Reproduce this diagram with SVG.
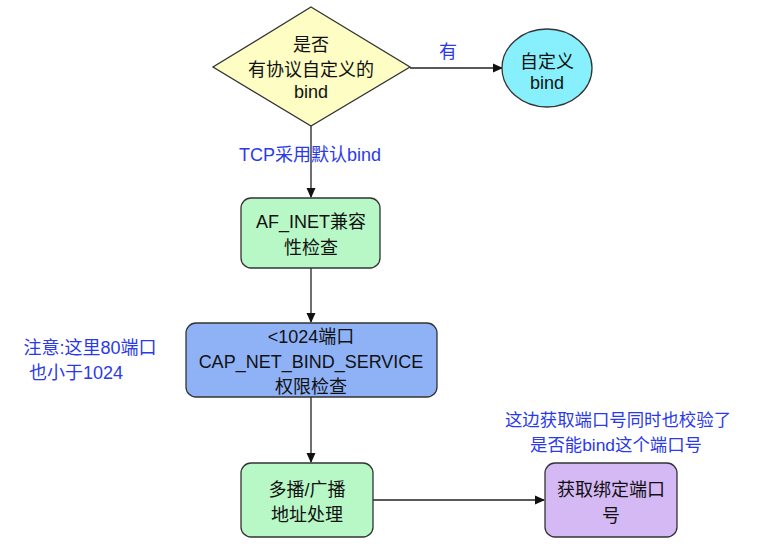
<svg xmlns="http://www.w3.org/2000/svg" width="779" height="550" viewBox="0 0 779 550">
<defs>
<marker id="arr" markerWidth="10" markerHeight="10" refX="9" refY="5" orient="auto" markerUnits="userSpaceOnUse">
<path d="M0,0.5 L10,5 L0,9.5 Z" fill="#111"/>
</marker>
<style>
.n{stroke:#333;stroke-width:1.3}
.t{font-family:"Liberation Sans","Noto Sans CJK SC",sans-serif;font-size:18px;fill:#111;text-anchor:middle}
.l{font-family:"Liberation Sans","Noto Sans CJK SC",sans-serif;font-size:18px;fill:#2b3ae8;text-anchor:middle}
.s{font-size:17.4px}
.e{stroke:#222;stroke-width:1.3;fill:none;marker-end:url(#arr)}
</style>
</defs>
<rect width="779" height="550" fill="#fff"/>
<g id="connectors">
<path class="e" d="M410,68 L502,68"/>
<path class="e" d="M311,126 L311,197"/>
<path class="e" d="M311,268 L311,322"/>
<path class="e" d="M311,397 L311,462"/>
<path class="e" d="M373,500 L544,500"/>
</g>
<g id="labels">
<text class="l" x="448" y="58">有</text>
<text class="l" x="310" y="161">TCP采用默认bind</text>
<text class="l" x="90" y="354">注意:这里80端口</text>
<text class="l" x="76" y="379">也小于1024</text>
<text class="l s" x="618" y="426">这边获取端口号同时也校验了</text>
<text class="l s" x="616" y="451">是否能bind这个端口号</text>
</g>
<g id="decision">
<polygon class="n" points="311,7 410,67 311,126 213,67" fill="#fdfdc4"/>
<text class="t" x="311" y="51">是否</text>
<text class="t" x="311" y="76">有协议自定义的</text>
<text class="t" x="311" y="98">bind</text>
</g>
<g id="custom">
<ellipse class="n" cx="547" cy="68" rx="45" ry="39" fill="#88f0fc"/>
<text class="t" x="547" y="68">自定义</text>
<text class="t" x="547" y="89">bind</text>
</g>
<g id="afinet">
<rect class="n" x="241" y="198" width="139" height="70" rx="10" fill="#b8f7c6"/>
<text class="t" x="311" y="228">AF_INET兼容</text>
<text class="t" x="311" y="254">性检查</text>
</g>
<g id="cap">
<rect class="n" x="186" y="323" width="251" height="74" rx="10" fill="#8fb2f7"/>
<text class="t" x="311" y="343">&lt;1024端口</text>
<text class="t" x="311" y="368">CAP_NET_BIND_SERVICE</text>
<text class="t" x="311" y="393">权限检查</text>
</g>
<g id="multicast">
<rect class="n" x="241" y="463" width="132" height="74" rx="10" fill="#b8f7c6"/>
<text class="t" x="307" y="496">多播/广播</text>
<text class="t" x="307" y="521">地址处理</text>
</g>
<g id="getport">
<rect class="n" x="545" y="463" width="132" height="74" rx="10" fill="#d5b9f5"/>
<text class="t" x="611" y="496">获取绑定端口</text>
<text class="t" x="611" y="522">号</text>
</g>
</svg>
